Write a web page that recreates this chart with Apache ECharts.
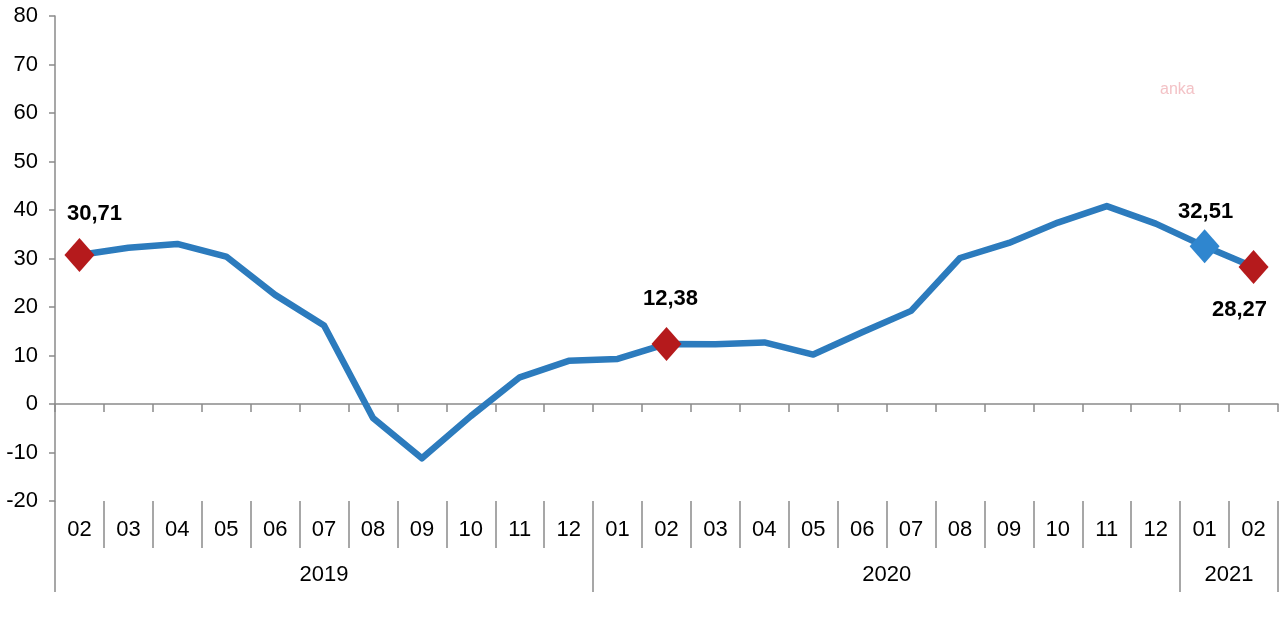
<!DOCTYPE html>
<html>
<head>
<meta charset="utf-8">
<script src="https://cdn.jsdelivr.net/npm/echarts@6/dist/echarts.min.js"></script>
<style>
html,body{margin:0;padding:0;background:#fff;}
#chart{width:1280px;height:640px;}
</style>
</head>
<body>
<div id="chart"></div>
<script>
// Data
var months = ['02','03','04','05','06','07','08','09','10','11','12',
              '01','02','03','04','05','06','07','08','09','10','11','12',
              '01','02'];
var values = [30.71, 32.2, 33.0, 30.4, 22.5, 16.2, -2.9, -11.2, -2.5, 5.5, 8.9,
              9.3, 12.38, 12.3, 12.7, 10.2, 14.8, 19.2, 30.1, 33.2, 37.4, 40.8, 37.2,
              32.51, 28.27];
var years = ['2019', '2020', '2021'];
var yearStart = [0, 11, 23];   // index of first month of each year
var yTicks = [-20, -10, 0, 10, 20, 30, 40, 50, 60, 70, 80];
var highlightRed = [0, 12, 24];
var highlightBlue = [23];

var FONT = '"Liberation Sans", Arial, sans-serif';
var lineColor = '#2c7bbd';
var redColor = '#b51a1c';

// Year group geometry derived from month counts
var yearEnds = yearStart.slice(1).concat([months.length]);
var yearCenters = yearStart.map(function (s, i) { return (s + yearEnds[i]) / 2; });
var yearBounds = yearStart.concat([months.length]);

function fmt(v) { return v.toFixed(2).replace('.', ','); }

var labelOffsets = {0: [15, -41], 12: [4, -45], 23: [1, -34], 24: [-14, 43]};

var scatterData = [];
highlightRed.concat(highlightBlue).forEach(function (i) {
  var isBlue = highlightBlue.indexOf(i) >= 0;
  scatterData.push({
    value: [i, values[i]],
    itemStyle: {color: isBlue ? '#2f86cf' : redColor, opacity: 1},
    label: {offset: labelOffsets[i] || [0, -40]}
  });
});
scatterData.sort(function (a, b) { return a.value[0] - b.value[0]; });

var chart = echarts.init(document.getElementById('chart'));
chart.setOption({
  animation: false,
  backgroundColor: '#ffffff',
  grid: {left: 55, right: 2, top: 16, bottom: 139, containLabel: false},
  xAxis: [
    {
      type: 'category', data: months, boundaryGap: true, position: 'bottom',
      axisLine: {show: true, onZero: true, lineStyle: {color: '#8a8a8a', width: 1.5}},
      axisTick: {show: true, length: 8, interval: 0, lineStyle: {color: '#8a8a8a', width: 1.5}},
      axisLabel: {show: false},
      splitLine: {show: false}
    },
    {
      type: 'category', data: months, boundaryGap: true, position: 'bottom',
      axisLine: {show: false, onZero: false},
      axisTick: {show: true, length: 47, interval: 0, lineStyle: {color: '#8a8a8a', width: 1.5}},
      axisLabel: {show: true, interval: 0, margin: 18, fontSize: 22, fontFamily: FONT, color: '#000'},
      splitLine: {show: false}
    },
    {
      type: 'value', min: 0, max: months.length, position: 'bottom',
      axisLine: {show: false, onZero: false},
      axisTick: {show: true, length: 91, customValues: yearBounds, lineStyle: {color: '#8a8a8a', width: 1.5}},
      axisLabel: {
        show: true, margin: 63, fontSize: 22, fontFamily: FONT, color: '#000',
        customValues: yearCenters,
        formatter: function (v) {
          var idx = yearCenters.indexOf(v);
          return idx >= 0 ? years[idx] : '';
        }
      },
      splitLine: {show: false}
    }
  ],
  yAxis: {
    type: 'value', min: yTicks[0], max: yTicks[yTicks.length - 1], interval: 10,
    axisLine: {show: true, onZero: false, lineStyle: {color: '#8a8a8a', width: 1.5}},
    axisTick: {show: true, length: 6, lineStyle: {color: '#8a8a8a', width: 1.5}},
    axisLabel: {margin: 17, fontSize: 22, fontFamily: FONT, color: '#000'},
    splitLine: {show: false}
  },
  graphic: [{
    type: 'text', left: 1160, top: 82,
    style: {text: 'anka', fill: '#f3c2c6', font: '16px ' + FONT}
  }],
  series: [
    {
      type: 'line', data: values, xAxisIndex: 0, yAxisIndex: 0,
      symbol: 'none', smooth: false,
      lineStyle: {color: lineColor, width: 6.5, join: 'round', cap: 'round'},
      z: 2
    },
    {
      type: 'scatter', data: scatterData, xAxisIndex: 0, yAxisIndex: 0,
      symbol: 'diamond', symbolSize: [30, 34],
      itemStyle: {opacity: 1},
      label: {
        show: true, position: 'inside',
        formatter: function (p) { return fmt(p.value[1]); },
        fontSize: 22, fontWeight: 'bold', fontFamily: FONT, color: '#000', opacity: 1
      },
      z: 3
    }
  ]
});
</script>
</body>
</html>
